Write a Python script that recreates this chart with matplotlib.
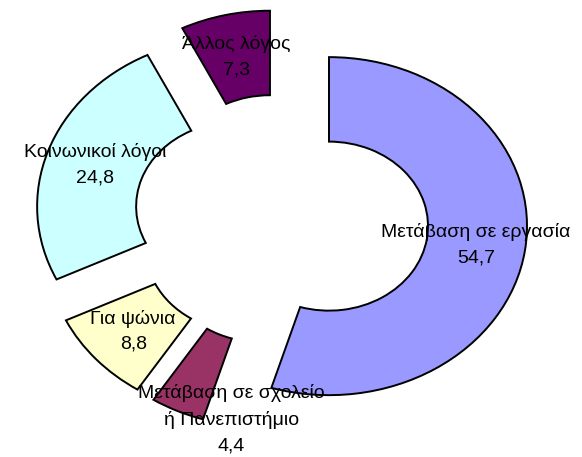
import numpy as np
import matplotlib
matplotlib.use("Agg")
import matplotlib.pyplot as plt

# ---
# Data
# ---

categories = [
    "Μετάβαση σε εργασία",
    "Μετάβαση σε σχολείο\nή Πανεπιστήμιο",
    "Για ψώνια",
    "Κοινωνικοί λόγοι",
    "Άλλος λόγος",
]
values = [54.7, 4.4, 8.8, 24.8, 7.3]
colors = ["#9999FF", "#993366", "#FFFFCC", "#CCFFFF", "#660066"]

# label placement: distance from wedge centre and angle shift (deg)
label_dist = [0.75, 0.97, 0.75, 0.75, 0.75]
label_shift = [0, 16, 0, 0, 0]

plt.rcParams["font.family"] = ["Liberation Sans", "DejaVu Sans"]

# ---
# Doughnut
# ---

fig = plt.figure(figsize=(5.82, 4.57), dpi=100)
ax = fig.add_axes([0, 0, 1, 1])

wedges, _ = ax.pie(
    values,
    colors=colors,
    startangle=90,
    counterclock=False,
    explode=[0.245] * len(values),
    radius=1.0,
    wedgeprops=dict(width=0.5, edgecolor="black", linewidth=1.4),
)

for w, cat, val, dist, shift in zip(wedges, categories, values, label_dist, label_shift):
    ang = np.deg2rad((w.theta1 + w.theta2) / 2 + shift)
    cx, cy = w.center
    txt = f"{cat}\n{val:.1f}".replace(".", ",")
    ax.text(cx + dist * np.cos(ang), cy + dist * np.sin(ang), txt,
            ha="center", va="center", fontsize=14, linespacing=1.65)

# the original picture is slightly stretched horizontally
ax.set_aspect("auto")
ax.set_xlim(-1.419, 1.520)
ax.set_ylim(-1.402, 1.302)
ax.axis("off")

fig.savefig("out.png", dpi=100)
